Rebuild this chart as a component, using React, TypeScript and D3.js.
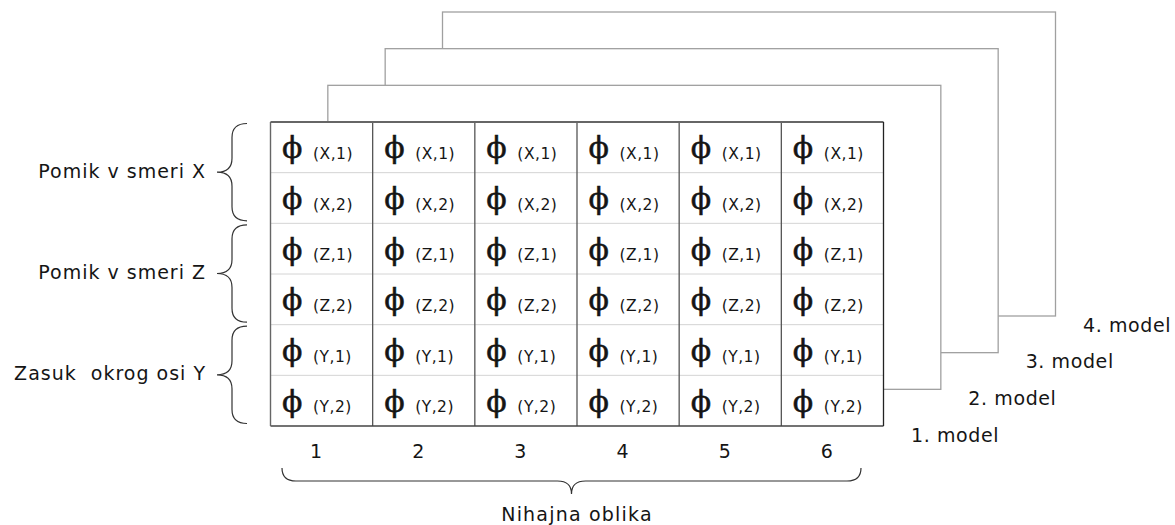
import React from "react";
import * as d3 from "d3";

const shapes = ["1", "2", "3", "4", "5", "6"];
const rowLabels = ["(X,1)", "(X,2)", "(Z,1)", "(Z,2)", "(Y,1)", "(Y,2)"];
const groupLabels = ["Pomik v smeri X", "Pomik v smeri Z", "Zasuk  okrog osi Y"];
const groupRows = [[0, 1], [2, 3], [4, 5]];
const models = ["1. model", "2. model", "3. model", "4. model"];
const axisTitle = "Nihajna oblika";
const PHI = "\u03D5";

const W = 1175;
const H = 525;
const gridLeft = 270.5;
const gridRight = 883.5;
const gridTop = 122;
const gridBottom = 426;

const SANS = "'DejaVu Sans', Verdana, sans-serif";
const SERIF = "'DejaVu Serif', 'Liberation Serif', serif";
const TEXT = "#151515";

function vBrace(x: number, y1: number, y2: number, d: number, q: number) {
  const m = (y1 + y2) / 2;
  const xm = x - d / 2;
  const xt = x - d;
  const p = d3.path();
  p.moveTo(x, y1);
  p.quadraticCurveTo(xm, y1, xm, y1 + q);
  p.lineTo(xm, m - q);
  p.quadraticCurveTo(xm, m, xt, m);
  p.quadraticCurveTo(xm, m, xm, m + q);
  p.lineTo(xm, y2 - q);
  p.quadraticCurveTo(xm, y2, x, y2);
  return p.toString();
}

function hBrace(x1: number, x2: number, y: number, d: number, q: number) {
  const m = (x1 + x2) / 2;
  const ym = y + d / 2;
  const yt = y + d;
  const p = d3.path();
  p.moveTo(x1, y);
  p.quadraticCurveTo(x1, ym, x1 + q, ym);
  p.lineTo(m - q, ym);
  p.quadraticCurveTo(m, ym, m, yt);
  p.quadraticCurveTo(m, ym, m + q, ym);
  p.lineTo(x2 - q, ym);
  p.quadraticCurveTo(x2, ym, x2, y);
  return p.toString();
}

export default function App() {
  const x = d3.scaleBand<string>().domain(shapes).range([gridLeft, gridRight]);
  const y = d3
    .scaleBand<string>()
    .domain(rowLabels)
    .range([gridTop, gridBottom]);
  const mIdx = models.map((_, i) => i);
  const offX = d3.scaleLinear().domain([0, 3]).range([0, 172]);
  const offY = d3.scaleLinear().domain([0, 3]).range([0, -110]);
  const gw = gridRight - gridLeft;
  const gh = gridBottom - gridTop;
  const bw = x.bandwidth();
  const bh = y.bandwidth();

  return (
    <svg
      width={W}
      height={H}
      style={{ position: "absolute", left: 0, top: 0, background: "#fff" }}
    >
      {/* stacked model frames, back to front */}
      {mIdx
        .slice(1)
        .reverse()
        .map((i) => (
          <rect
            key={"f" + i}
            x={gridLeft + offX(i)}
            y={gridTop + offY(i)}
            width={gw}
            height={gh}
            fill="#fff"
            stroke="#a0a0a0"
            strokeWidth={1.3}
          />
        ))}

      {/* front grid */}
      <rect x={gridLeft} y={gridTop} width={gw} height={gh} fill="#fff" />
      {rowLabels.slice(1).map((r) => (
        <line
          key={"h" + r}
          x1={gridLeft}
          x2={gridRight}
          y1={y(r)!}
          y2={y(r)!}
          stroke="#d4d4d4"
          strokeWidth={1}
        />
      ))}
      {shapes.slice(1).map((s) => (
        <line
          key={"v" + s}
          x1={x(s)!}
          x2={x(s)!}
          y1={gridTop}
          y2={gridBottom}
          stroke="#555"
          strokeWidth={1.3}
        />
      ))}
      <line x1={gridLeft} x2={gridRight} y1={gridTop} y2={gridTop} stroke="#666" strokeWidth={2} />
      <line x1={gridLeft} x2={gridRight} y1={gridBottom} y2={gridBottom} stroke="#444" strokeWidth={1.4} />
      <line x1={gridLeft} x2={gridLeft} y1={gridTop} y2={gridBottom} stroke="#666" strokeWidth={1.4} />
      <line x1={gridRight} x2={gridRight} y1={gridTop} y2={gridBottom} stroke="#222" strokeWidth={1.3} />

      {/* cells */}
      {shapes.map((s) =>
        rowLabels.map((r) => (
          <g key={s + r}>
            <text
              x={x(s)! + 11.5}
              y={y(r)! + bh / 2 + 11}
              fontFamily={SERIF}
              fontSize={30}
              fill={TEXT}
              stroke={TEXT}
              strokeWidth={0.5}
            >
              {PHI}
            </text>
            <text
              x={x(s)! + 42.5}
              y={y(r)! + bh / 2 + 11.5}
              fontFamily={SANS}
              fontSize={15.5}
              letterSpacing={0.5}
              fill={TEXT}
            >
              {r}
            </text>
          </g>
        ))
      )}

      {/* column numbers */}
      {shapes.map((s) => (
        <text
          key={"n" + s}
          x={x(s)! + bw / 2 - 5.5}
          y={gridBottom + 31.5}
          textAnchor="middle"
          fontFamily={SANS}
          fontSize={19}
          fill={TEXT}
        >
          {s}
        </text>
      ))}

      {/* left braces and group labels */}
      {groupLabels.map((g, gi) => {
        const rows = groupRows[gi];
        const y1 = y(rowLabels[rows[0]])!;
        const y2 = y(rowLabels[rows[rows.length - 1]])! + bh;
        const cy = (y1 + y2) / 2;
        return (
          <g key={g}>
            <path
              d={vBrace(247, y1 + 1.5, y2 - 2.5, 30, 14)}
              fill="none"
              stroke="#333"
              strokeWidth={1.2}
            />
            <text
              x={206}
              y={cy + 5}
              textAnchor="end"
              fontFamily={SANS}
              fontSize={19}
              letterSpacing={1}
              fill={TEXT}
              style={{ whiteSpace: "pre" }}
            >
              {g}
            </text>
          </g>
        );
      })}

      {/* bottom brace and title */}
      <path
        d={hBrace(282, 861, 468, 26, 14)}
        fill="none"
        stroke="#333"
        strokeWidth={1.2}
      />
      <text
        x={577}
        y={520.7}
        textAnchor="middle"
        fontFamily={SANS}
        fontSize={19}
        letterSpacing={1.2}
        fill={TEXT}
      >
        {axisTitle}
      </text>

      {/* model labels */}
      {models.map((m, i) => (
        <text
          key={m}
          x={gridRight + offX(i) + 27.5}
          y={gridBottom + offY(i) + 15.5}
          fontFamily={SANS}
          fontSize={19}
          letterSpacing={0.6}
          fill={TEXT}
          style={{ whiteSpace: "pre" }}
        >
          {m}
        </text>
      ))}
    </svg>
  );
}
